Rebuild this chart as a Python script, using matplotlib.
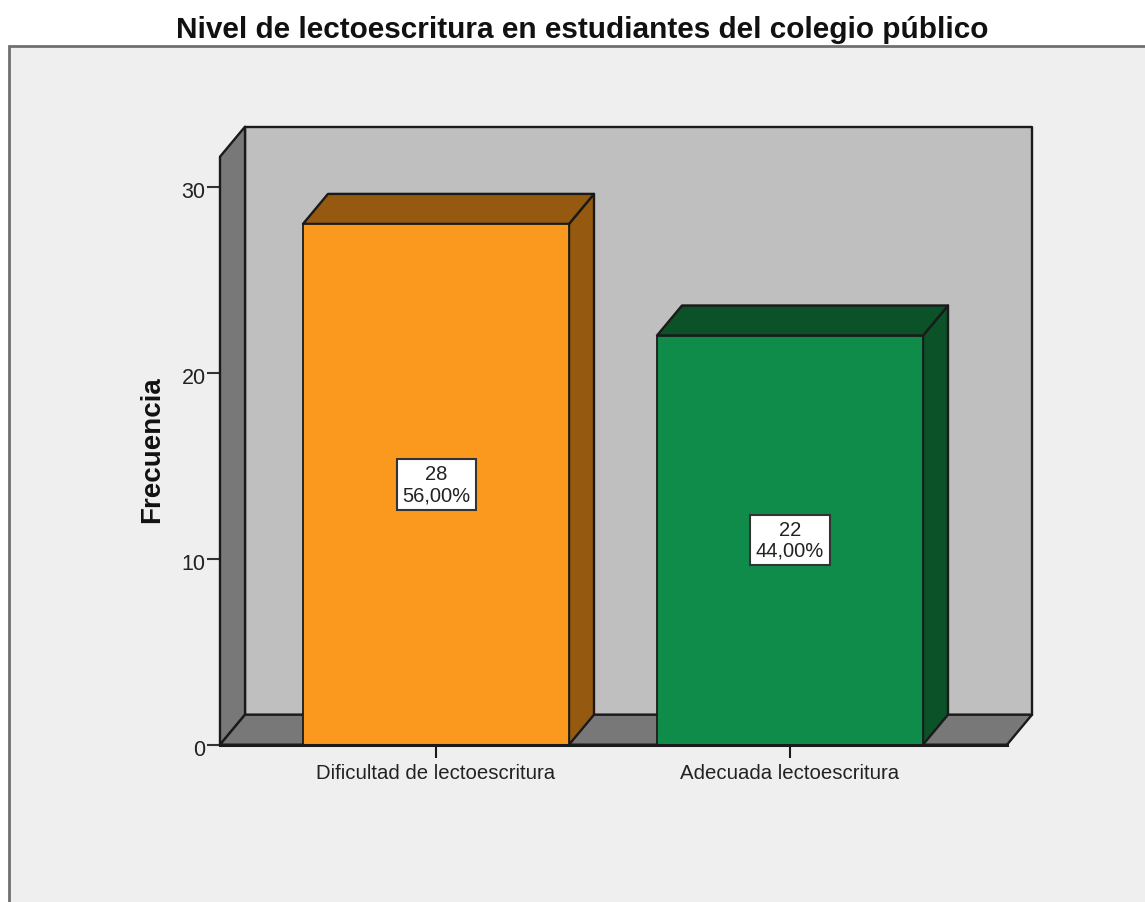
# nivel de lectoescritura - barras con efecto 3D
import matplotlib
matplotlib.use("Agg")
import matplotlib.pyplot as plt
from matplotlib.patches import Polygon, Rectangle
from matplotlib.transforms import ScaledTranslation

plt.rcParams["font.family"] = ["Liberation Sans", "DejaVu Sans"]

categories = ["Dificultad de lectoescritura", "Adecuada lectoescritura"]
counts = [28, 22]
percents = ["56,00%", "44,00%"]
y_ticks = [0, 10, 20, 30]

W, H = 1145, 903
bar_colors = ["#FB991F", "#108C4A"]
top_colors = ["#955A10", "#0B5229"]
edge = "#1a1a1a"

fig = plt.figure(figsize=(W / 100, H / 100), dpi=100, facecolor="white")

# panel de fondo
bg = fig.add_axes([0, 0, 1, 1])
bg.set_xlim(0, W)
bg.set_ylim(H, 0)
bg.axis("off")
bg.add_patch(Rectangle((9, 47), W + 20, H, facecolor="#EFEFEF", edgecolor="#707070", linewidth=2))

# ejes: esquina frontal del suelo en pixeles (220, 745.7) .. (1007, 157.7)
left, right, bottom, top = 220, 1007, 745.7, 157.7
ax = fig.add_axes([left / W, 1 - bottom / H, (right - left) / W, (bottom - top) / H])
ax.patch.set_alpha(0)
px_x = 354  # pixeles por categoria
px_y = 18.6  # pixeles por unidad
ax.set_xlim(-216 / px_x, 571 / px_x)
ax.set_ylim(0, (bottom - top) / px_y)
dx = 25 / px_x
dy = 30 / px_y
x0, x1 = ax.get_xlim()
y1 = ax.get_ylim()[1]


def poly(points, color, z):
    ax.add_patch(Polygon(points, closed=True, facecolor=color, edgecolor=edge,
                         linewidth=1.7, clip_on=False, zorder=z, joinstyle="round"))


# paredes y suelo
poly([(x0 + dx, dy), (x1 + dx, dy), (x1 + dx, y1 + dy), (x0 + dx, y1 + dy)], "#BFBFBF", 1)
poly([(x0, 0), (x0 + dx, dy), (x0 + dx, y1 + dy), (x0, y1)], "#787878", 2)
poly([(x0, 0), (x1, 0), (x1 + dx, dy), (x0 + dx, dy)], "#787878", 2)

# barras
width = 266 / px_x
for i, val in enumerate(counts):
    a, b = i - width / 2, i + width / 2
    poly([(b, 0), (b + dx, dy), (b + dx, val + dy), (b, val)], top_colors[i], 3)
    poly([(a, val), (b, val), (b + dx, val + dy), (a + dx, val + dy)], top_colors[i], 3)
    ax.bar(i, val, width=width, color=bar_colors[i], edgecolor=edge, linewidth=1.3, zorder=4)
    ax.text(i, val / 2, f"{val}\n{percents[i]}", ha="center", va="center", fontsize=14.5,
            color="#222222", linespacing=1.12, zorder=5,
            bbox=dict(boxstyle="square,pad=0.27", facecolor="white", edgecolor="#333333", linewidth=1.5))

for s in ["top", "right", "left", "bottom"]:
    ax.spines[s].set_visible(False)
ax.set_xticks(range(len(categories)))
ax.set_xticklabels(categories, fontsize=14.7, color="#222222")
ax.set_yticks(y_ticks)
ax.set_yticklabels(y_ticks, fontsize=15.5, color="#222222")
ax.tick_params(axis="x", length=9, width=1.5, color=edge, pad=4)
ax.tick_params(axis="y", length=9.5, width=1.5, color="#333333", pad=0.8)
for lbl in ax.get_yticklabels():
    lbl.set_transform(lbl.get_transform() + ScaledTranslation(0, -1.3 / 72, fig.dpi_scale_trans))
ax.plot([x0, x1], [0, 0], color=edge, linewidth=2.2, clip_on=False, zorder=6)

bg.text(152, 450, "Frecuencia", rotation=90, ha="center", va="center", fontsize=20,
        fontweight="bold", color="#111111")
bg.text(582, 30, "Nivel de lectoescritura en estudiantes del colegio público", ha="center",
        va="center", fontsize=21.4, fontweight="bold", color="#111111")

fig.savefig("out.png", dpi=100)
